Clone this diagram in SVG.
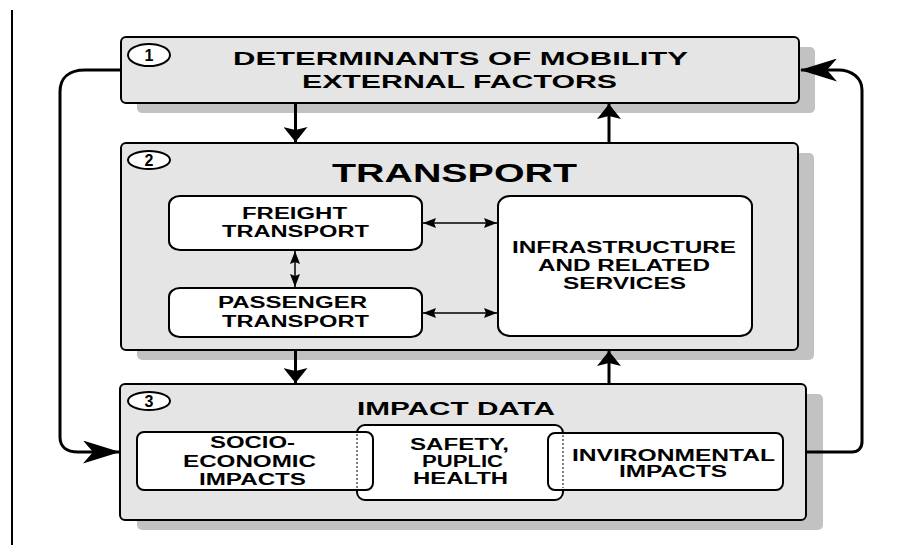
<svg xmlns="http://www.w3.org/2000/svg" width="905" height="553" viewBox="0 0 905 553">
<defs>
<style>
.shadow{fill:#c2c2c2;stroke:none}
.outer{fill:#e5e5e5;stroke:#000;stroke-width:2}
.inner{fill:#fff;stroke:#000;stroke-width:2}
.badge{fill:#fff;stroke:#000;stroke-width:2}
.t{font-family:"Liberation Sans",Arial,sans-serif;font-weight:bold;fill:#000;text-anchor:middle}
.big{font-size:18.5px}
.huge{font-size:26.5px}
.lbl{font-size:16px}
.num{font-size:16px}
.conn{fill:none;stroke:#000}
.dot{fill:none;stroke:#000;stroke-width:1;stroke-dasharray:2 2}
</style>
<marker id="bigHead" markerUnits="userSpaceOnUse" viewBox="0 0 37 23" refX="36" refY="11.5" markerWidth="37" markerHeight="23" orient="auto">
<polygon points="0,0 37,11.5 0,23 10,11.5" fill="#000"/>
</marker>
<marker id="midHead" markerUnits="userSpaceOnUse" viewBox="0 0 15 24" refX="15" refY="12" markerWidth="15" markerHeight="24" orient="auto">
<polygon points="0,0 15,12 0,24 3,12" fill="#000"/>
</marker>
<marker id="smallHead" markerUnits="userSpaceOnUse" viewBox="0 0 13 10" refX="13" refY="5" markerWidth="13" markerHeight="10" orient="auto-start-reverse">
<polygon points="0,0 13,5 0,10 2,5" fill="#000"/>
</marker>
</defs>

<line x1="12" y1="10" x2="12" y2="545" stroke="#000" stroke-width="2"/>

<g id="node1">
<rect class="shadow" x="137" y="47" width="678" height="66" rx="5"/>
<rect class="outer" x="121" y="37" width="678" height="66" rx="5"/>
<ellipse class="badge" cx="149" cy="55" rx="21" ry="11"/>
<text class="t num" x="149" y="60.5">1</text>
<text class="t big" x="460.5" y="65" textLength="455" lengthAdjust="spacingAndGlyphs">DETERMINANTS OF MOBILITY</text>
<text class="t big" x="459.5" y="88" textLength="315" lengthAdjust="spacingAndGlyphs">EXTERNAL FACTORS</text>
</g>

<g id="node2">
<rect class="shadow" x="137" y="153" width="677" height="207" rx="5"/>
<rect class="outer" x="121" y="143" width="677" height="207" rx="5"/>
<ellipse class="badge" cx="149" cy="160" rx="21" ry="9"/>
<text class="t num" x="149" y="165.5">2</text>
<text class="t huge" x="454.5" y="182" textLength="245" lengthAdjust="spacingAndGlyphs">TRANSPORT</text>
</g>

<g id="freight">
<rect class="inner" x="169" y="196" width="253" height="54" rx="11" ry="9"/>
<text class="t lbl" x="294.5" y="219" textLength="105" lengthAdjust="spacingAndGlyphs">FREIGHT</text>
<text class="t lbl" x="295.5" y="237" textLength="147" lengthAdjust="spacingAndGlyphs">TRANSPORT</text>
</g>

<g id="passenger">
<rect class="inner" x="169" y="288" width="253" height="49" rx="11" ry="9"/>
<text class="t lbl" x="292.5" y="308" textLength="149" lengthAdjust="spacingAndGlyphs">PASSENGER</text>
<text class="t lbl" x="295.5" y="327" textLength="147" lengthAdjust="spacingAndGlyphs">TRANSPORT</text>
</g>

<g id="infrastructure">
<rect class="inner" x="498" y="196" width="254" height="140" rx="12" ry="10"/>
<text class="t lbl" x="624" y="253" textLength="224" lengthAdjust="spacingAndGlyphs">INFRASTRUCTURE</text>
<text class="t lbl" x="624" y="271" textLength="172" lengthAdjust="spacingAndGlyphs">AND RELATED</text>
<text class="t lbl" x="624.5" y="289" textLength="123" lengthAdjust="spacingAndGlyphs">SERVICES</text>
</g>

<g id="node3">
<rect class="shadow" x="137" y="394" width="686" height="136" rx="5"/>
<rect class="outer" x="120" y="384" width="686" height="136" rx="5"/>
<ellipse class="badge" cx="149" cy="401" rx="21" ry="9"/>
<text class="t num" x="149" y="406.5">3</text>
<text class="t big" x="456" y="415" textLength="198" lengthAdjust="spacingAndGlyphs">IMPACT DATA</text>
</g>

<g id="safety">
<rect class="inner" x="357" y="425" width="206" height="75" rx="8"/>
<text class="t lbl" x="459.5" y="450" textLength="99" lengthAdjust="spacingAndGlyphs">SAFETY,</text>
<text class="t lbl" x="462.5" y="467" textLength="81" lengthAdjust="spacingAndGlyphs">PUPLIC</text>
<text class="t lbl" x="460.5" y="484" textLength="95" lengthAdjust="spacingAndGlyphs">HEALTH</text>
</g>

<g id="socio">
<rect class="inner" x="137" y="432" width="236" height="58" rx="7"/>
<text class="t lbl" x="252.5" y="448" textLength="85" lengthAdjust="spacingAndGlyphs">SOCIO-</text>
<text class="t lbl" x="249.5" y="467" textLength="133" lengthAdjust="spacingAndGlyphs">ECONOMIC</text>
<text class="t lbl" x="252.5" y="485" textLength="107" lengthAdjust="spacingAndGlyphs">IMPACTS</text>
<line class="dot" x1="357" y1="434" x2="357" y2="488"/>
</g>

<g id="environmental">
<rect class="inner" x="548" y="433" width="235" height="57" rx="7"/>
<text class="t lbl" x="673.5" y="461" textLength="203" lengthAdjust="spacingAndGlyphs">INVIRONMENTAL</text>
<text class="t lbl" x="673" y="477" textLength="108" lengthAdjust="spacingAndGlyphs">IMPACTS</text>
<line class="dot" x1="563" y1="435" x2="563" y2="488"/>
</g>

<g id="connectors">
<line class="conn" stroke-width="3" x1="295.5" y1="103" x2="295.5" y2="142" marker-end="url(#midHead)"/>
<line class="conn" stroke-width="3" x1="609" y1="143" x2="609" y2="104" marker-end="url(#midHead)"/>
<line class="conn" stroke-width="3" x1="295.5" y1="350" x2="295.5" y2="383" marker-end="url(#midHead)"/>
<line class="conn" stroke-width="3" x1="609" y1="384" x2="609" y2="351" marker-end="url(#midHead)"/>
<line class="conn" stroke-width="1.5" x1="423" y1="223" x2="497" y2="223" marker-start="url(#smallHead)" marker-end="url(#smallHead)"/>
<line class="conn" stroke-width="1.5" x1="423" y1="313" x2="497" y2="313" marker-start="url(#smallHead)" marker-end="url(#smallHead)"/>
<line class="conn" stroke-width="1.5" x1="295" y1="251" x2="295" y2="287" marker-start="url(#smallHead)" marker-end="url(#smallHead)"/>
<path class="conn" stroke-width="3" d="M121,70 H85 C70,70 60,77 60,92 V437 C60,447 67,452 78,452 H119" marker-end="url(#bigHead)"/>
<path class="conn" stroke-width="3" d="M806,452 H852 C858,452 862,448 862,442 V90 C862,78 852,70 838,70 H801" marker-end="url(#bigHead)"/>
</g>
</svg>
